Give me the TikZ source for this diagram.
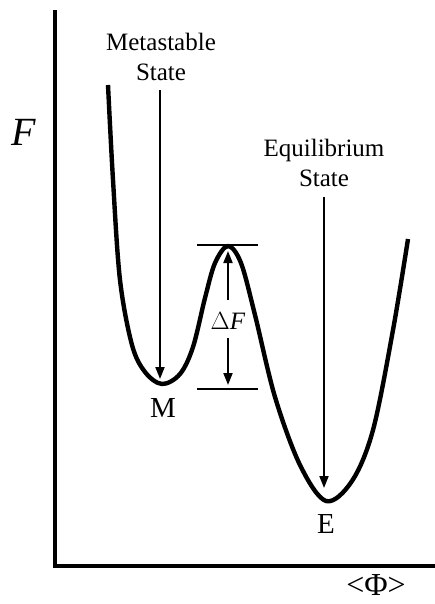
\documentclass[tikz,border=0pt]{standalone}
\usepackage{fontspec}
\setmainfont{Liberation Serif}
\usetikzlibrary{arrows.meta}
\begin{document}
\begin{tikzpicture}[x=1pt,y=-1pt,
  axis/.style={line width=3.4pt},
  curve/.style={line width=4.4pt, line join=round},
  pointer/.style={line width=1.8pt,-{Triangle[length=12pt,width=9pt]}},
  level/.style={line width=2.2pt},
  lbl/.style={inner sep=0pt, font=\fontsize{25}{30}\selectfont, align=center},
  big/.style={inner sep=0pt, font=\fontsize{29}{34}\selectfont}]
\useasboundingbox (0,0) rectangle (434,604);
% axes
\coordinate (ytop) at (55,12);
\coordinate (orig) at (55,566);
\coordinate (xend) at (434,566);
\draw[axis, line cap=rect] (ytop) -- (orig) -- (xend);
\node[inner sep=0pt, font=\fontsize{40}{40}\selectfont\itshape] (F) at (24,132) {F};
\node[inner sep=0pt, font=\fontsize{32}{32}\selectfont] (phi) at (376,585) {<Φ>};
% curve
\draw[curve] plot[smooth, tension=0.55] coordinates {
  (108,85) (113,180) (120,280) (132,345) (145,372) (162,384) (180,374)
  (193,347) (205,298) (215,263) (228,246) (241,263) (255,315) (275,397)
  (300,465) (326,501) (352,481) (373,430) (393,330) (408,239)};
% labels
\node[lbl] (meta) at (161,57) {Metastable\\State};
\node[lbl] (equi) at (324,163) {Equilibrium\\State};
\coordinate (mtip) at (160,379);
\coordinate (etip) at (324,488);
\draw[pointer] (160,90) -- (mtip);
\draw[pointer] (324,197) -- (etip);
\node[big] (M) at (163,408) {M};
\node[big] (E) at (326,524) {E};
% barrier levels
\coordinate (t1) at (197,245); \coordinate (t2) at (258,245);
\coordinate (b1) at (197,389); \coordinate (b2) at (258,389);
\draw[level] (t1) -- (t2);
\draw[level] (b1) -- (b2);
\node[inner sep=0pt, font=\fontsize{25}{25}\selectfont] (dF) at (228,321) {$\Delta$\textit{F}};
\coordinate (dtop) at (228,251);
\coordinate (dbot) at (228,385);
\draw[pointer] (228,300) -- (dtop);
\draw[pointer] (228,338) -- (dbot);
\end{tikzpicture}
\end{document}
